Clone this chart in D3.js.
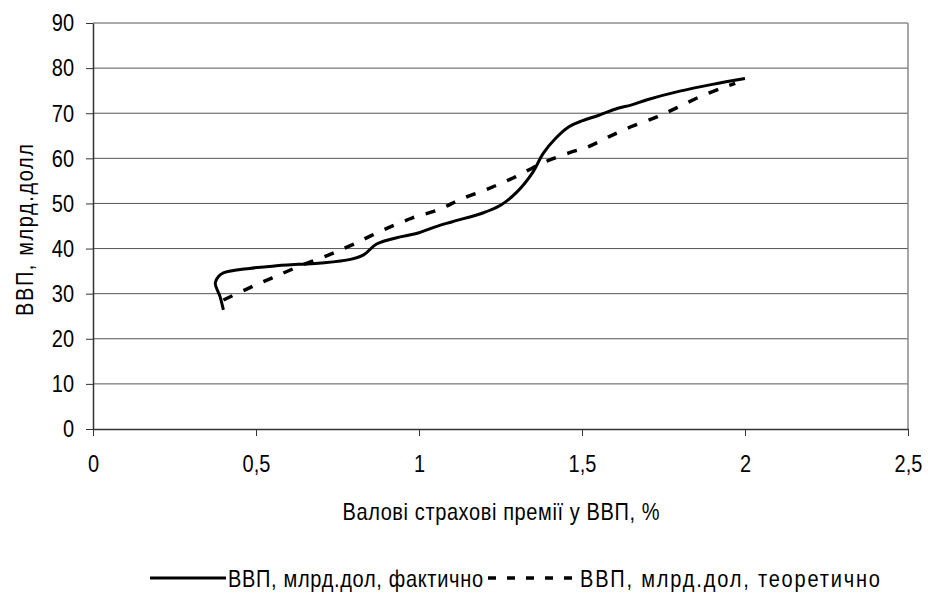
<!DOCTYPE html>
<html><head><meta charset="utf-8">
<script src="https://cdn.jsdelivr.net/npm/d3@7"></script>
<style>body{margin:0;background:#fff}svg{display:block}text{font-family:"Liberation Sans",Arial,sans-serif;fill:#000}</style>
</head><body><svg id="c" width="928" height="594"></svg>
<script>
const actualX = [0.40,0.39,0.375,0.385,0.40,0.48,0.55,0.63,0.70,0.79,0.83,0.87,0.95,1.00,1.05,1.10,1.20,1.25,1.30,1.35,1.38,1.42,1.46,1.50,1.55,1.61,1.65,1.70,1.80,1.90,2.00];
const actualY = [26.4,29.3,32.4,33.8,34.6,35.6,36.1,36.5,36.8,37.6,38.6,41.0,42.7,43.5,44.8,45.9,48.0,49.6,52.5,57.0,61.0,64.5,67.0,68.3,69.5,71.1,71.8,73.0,74.9,76.4,77.7];
const theoX = [0.40,0.48,0.55,0.63,0.72,0.80,0.89,0.98,1.06,1.13,1.21,1.29,1.38,1.46,1.52,1.58,1.65,1.73,1.79,1.86,1.93,1.97];
const theoY = [28.6,31.3,33.5,36.0,38.5,41.0,44.1,46.8,48.6,51.0,53.2,55.7,59.0,61.2,62.6,64.7,67.0,69.2,71.2,73.6,75.6,76.6];
const xTicks = [0,0.5,1,1.5,2,2.5];
const yTicks = [0,10,20,30,40,50,60,70,80,90];
const seriesNames = ["ВВП, млрд.дол, фактично","ВВП, млрд.дол, теоретично"];
const xTitle = "Валові страхові премії у ВВП, %";
const yTitle = "ВВП, млрд.долл";

const FS = "20px";
const SY = 1.2;
const svg = d3.select("#c");
const L=93, R=908, T=23, B=429;
const x = d3.scaleLinear().domain([0,2.5]).range([L,R]);
const y = d3.scaleLinear().domain([0,90]).range([B,T]);
const fmt = d => String(d).replace(".", ",");

function stretch(sel){
  sel.each(function(){
    const bb = this.getBBox();
    const cy = bb.y + bb.height/2;
    d3.select(this).attr("transform", `translate(0,${cy}) scale(1,${SY}) translate(0,${-cy})`);
  });
}

svg.append("g").selectAll("line").data(yTicks.filter(d=>d>0)).join("line")
  .attr("x1",L).attr("x2",R).attr("y1",d=>y(d)).attr("y2",d=>y(d))
  .attr("stroke","#555").attr("stroke-width",1);
svg.append("line").attr("x1",R).attr("x2",R).attr("y1",T).attr("y2",B).attr("stroke","#888").attr("stroke-width",1.5);

const gx = svg.append("g").attr("transform",`translate(0,${B})`)
  .call(d3.axisBottom(x).tickValues(xTicks).tickFormat(fmt).tickSize(7).tickPadding(20).tickSizeOuter(0));
const gy = svg.append("g").attr("transform",`translate(${L},0)`)
  .call(d3.axisLeft(y).tickValues(yTicks).tickSize(7).tickPadding(12).tickSizeOuter(0));
[gx,gy].forEach(g=>{
  g.selectAll("text").style("font-size",FS).style("font-family","'Liberation Sans',Arial,sans-serif").attr("fill","#000");
  g.selectAll("line").attr("stroke","#333");
  g.select(".domain").attr("stroke","#333").attr("stroke-width",1.5);
  stretch(g.selectAll("text"));
});

const la = d3.line().x(d=>x(d[0])).y(d=>y(d[1])).curve(d3.curveCatmullRom.alpha(0.5));
svg.append("path").datum(actualX.map((v,i)=>[v,actualY[i]])).attr("d",la)
  .attr("fill","none").attr("stroke","#000").attr("stroke-width",3).attr("stroke-linejoin","round");
svg.append("path").datum(theoX.map((v,i)=>[v,theoY[i]])).attr("d",la)
  .attr("fill","none").attr("stroke","#000").attr("stroke-width",3.5).attr("stroke-dasharray","10,12");

const xt = svg.append("text").attr("x",501).attr("y",519).attr("text-anchor","middle").attr("textLength",317).style("font-size",FS).text(xTitle);
stretch(xt);
svg.append("text").attr("transform",`translate(33,230) rotate(-90) scale(1,${SY})`).attr("text-anchor","middle").attr("textLength",172).style("font-size",FS).text(yTitle);

const lg = svg.append("g");
lg.append("line").attr("x1",150).attr("x2",226).attr("y1",578).attr("y2",578).attr("stroke","#000").attr("stroke-width",3);
const t1 = lg.append("text").attr("x",228).attr("y",586).attr("textLength",255).style("font-size",FS).text(seriesNames[0]);
lg.append("line").attr("x1",488).attr("x2",576).attr("y1",578).attr("y2",578).attr("stroke","#000").attr("stroke-width",3.5).attr("stroke-dasharray","8,11");
const t2 = lg.append("text").attr("x",580).attr("y",586).attr("textLength",300).style("font-size",FS).text(seriesNames[1]);
stretch(t1); stretch(t2);
</script></body></html>
